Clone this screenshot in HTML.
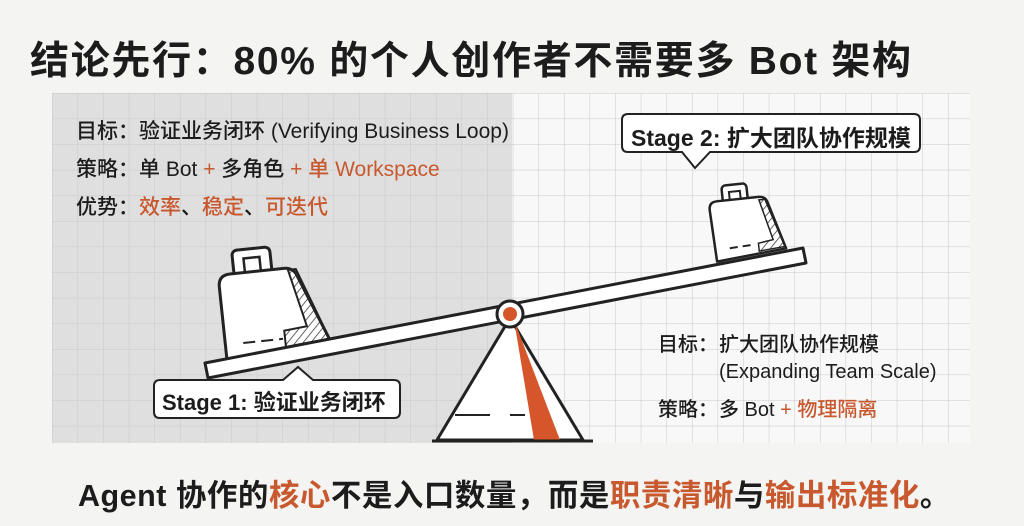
<!DOCTYPE html>
<html><head><meta charset="utf-8"><style>
*{margin:0;padding:0;box-sizing:border-box}
body{width:1024px;height:526px;background:#f4f4f3;font-family:"Liberation Sans","Noto Sans CJK SC",sans-serif;color:#1c1c1c;position:relative;overflow:hidden}
.t{position:absolute;white-space:nowrap}
.o{color:#c8592e}
.l{display:inline-block;width:61px}
</style></head><body>
<div class="t" style="left:30px;top:30px;font-size:39px;font-weight:700;letter-spacing:1.7px">结论先行：80% 的个人创作者不需要多 Bot 架构</div>
<svg width="1024" height="526" style="position:absolute;left:0;top:0">
<defs>
<pattern id="g" width="25.6" height="25.6" patternUnits="userSpaceOnUse" x="52" y="93">
<path d="M0 0H25.6M0 0V25.6" stroke="#c9c9c9" stroke-width="1" fill="none"/></pattern>
<pattern id="h" width="6" height="6" patternUnits="userSpaceOnUse" patternTransform="rotate(45)"><line x1="0" y1="0" x2="0" y2="6" stroke="#333" stroke-width="1.5"/></pattern>
</defs>
<rect x="52" y="93" width="460" height="350" fill="#dfdfdf"/>
<rect x="512" y="93" width="458" height="350" fill="#f8f8f8"/>
<rect x="52" y="93" width="918" height="350" fill="url(#g)"/>
<polygon points="510,318 437,440 583,440" fill="#fff" stroke="#222" stroke-width="3" stroke-linejoin="round"/>
<polygon points="514,320 534,440 560,440" fill="#d4562a"/>
<line x1="455" y1="415" x2="490" y2="415" stroke="#222" stroke-width="2"/><line x1="510" y1="415" x2="525" y2="415" stroke="#222" stroke-width="2"/>
<line x1="432" y1="441" x2="593" y2="441" stroke="#222" stroke-width="3"/>
<g transform="rotate(-6 270 310)">
<rect x="238" y="247" width="38" height="30" rx="5" fill="#fff" stroke="#222" stroke-width="3"/>
<rect x="249" y="256" width="16" height="16" fill="#fff" stroke="#222" stroke-width="2.5"/>
<path d="M222 282 Q222 270 234 270 L288 270 Q298 270 301 280 L328 350 L222 355 Z" fill="#fff" stroke="#222" stroke-width="3" stroke-linejoin="round"/>
<path d="M292 272 L300 272 L327 347 L282 350 L282 332 L305 330 Z" fill="url(#h)" stroke="#222" stroke-width="2"/>
<line x1="240" y1="340" x2="280" y2="340" stroke="#222" stroke-width="2" stroke-dasharray="12 6"/>
</g>
<g transform="rotate(-6 750 230)">
<rect x="726" y="183" width="25" height="20" rx="4" fill="#fff" stroke="#222" stroke-width="2.5"/>
<rect x="733" y="190" width="11" height="10" fill="#fff" stroke="#222" stroke-width="2"/>
<path d="M712 206 Q712 198 720 198 L762 198 Q768 198 770 203 L784 252 L714 258 Z" fill="#fff" stroke="#222" stroke-width="2.5" stroke-linejoin="round"/>
<path d="M762 201 L768 201 L783 250 L757 252 L757 244 L772 242 Z" fill="url(#h)" stroke="#222" stroke-width="1.5"/>
<line x1="728" y1="246" x2="752" y2="245" stroke="#222" stroke-width="2" stroke-dasharray="8 5"/>
</g>
<polygon points="205,363 803,248 806,263 208,378" fill="#fff" stroke="#222" stroke-width="3" stroke-linejoin="round"/>
<circle cx="510" cy="314" r="13" fill="#fff" stroke="#222" stroke-width="3"/>
<circle cx="510" cy="314" r="7" fill="#d4562a"/>
<path d="M160 380 L283 380 L298 367 L313 380 L394 380 Q400 380 400 386 L400 412 Q400 418 394 418 L160 418 Q154 418 154 412 L154 386 Q154 380 160 380 Z" fill="#fff" stroke="#222" stroke-width="2"/>
<path d="M628 114 L914 114 Q920 114 920 120 L920 146 Q920 152 914 152 L710 152 L695 168 L682 152 L628 152 Q622 152 622 146 L622 120 Q622 114 628 114 Z" fill="#fff" stroke="#222" stroke-width="2"/>
</svg>
<div class="t" style="left:162px;top:385px;font-size:22px;font-weight:600">Stage 1: 验证业务闭环</div>
<div class="t" style="left:631px;top:119px;font-size:23px;font-weight:600">Stage 2: 扩大团队协作规模</div>
<div class="t" style="left:76px;top:120px;font-size:21px;line-height:24px;font-weight:500">目标：验证业务闭环 (Verifying Business Loop)</div>
<div class="t" style="left:76px;top:158px;font-size:21px;line-height:24px;font-weight:500">策略：单 Bot <span class="o">+</span> 多角色 <span class="o">+ 单 Workspace</span></div>
<div class="t" style="left:76px;top:196px;font-size:21px;line-height:24px;font-weight:500">优势：<span class="o">效率</span>、<span class="o">稳定</span>、<span class="o">可迭代</span></div>
<div class="t" style="left:658px;top:333px;font-size:20px;line-height:24px;font-weight:500"><span class="l">目标：</span>扩大团队协作规模</div>
<div class="t" style="left:719px;top:360px;font-size:20px;line-height:24px;font-weight:500">(Expanding Team Scale)</div>
<div class="t" style="left:658px;top:398px;font-size:20px;line-height:24px;font-weight:500"><span class="l">策略：</span>多 Bot <span class="o">+ 物理隔离</span></div>
<div class="t" style="left:78px;top:478px;font-size:30.5px;font-weight:700;line-height:36px;letter-spacing:0.5px">Agent 协作的<span class="o">核心</span>不是入口数量，而是<span class="o">职责清晰</span>与<span class="o">输出标准化</span>。</div>
</body></html>
